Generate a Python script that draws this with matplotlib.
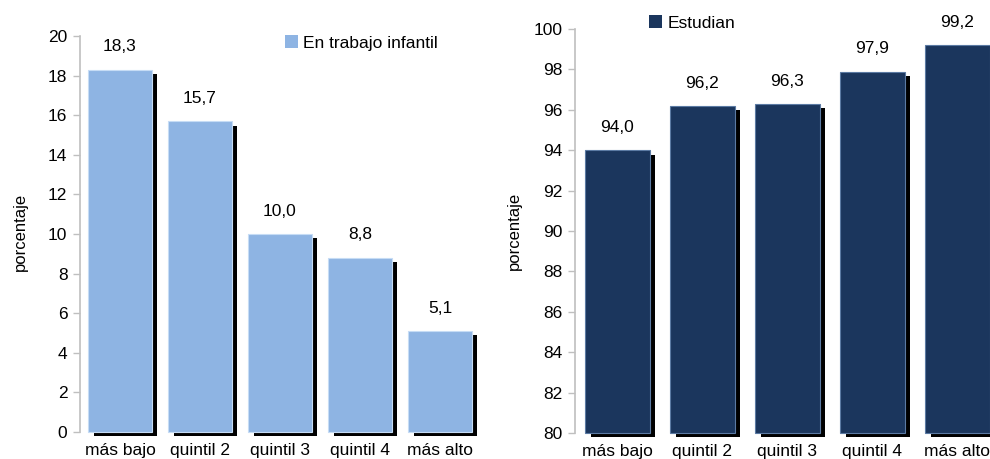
import matplotlib
matplotlib.use("Agg")
import matplotlib.pyplot as plt
import matplotlib.patheffects as pe
from matplotlib.patches import Patch
from matplotlib import font_manager

# data
quintiles = ["más bajo", "quintil 2", "quintil 3", "quintil 4", "más alto"]
trabajo_infantil = [18.3, 15.7, 10.0, 8.8, 5.1]
estudian = [94.0, 96.2, 96.3, 97.9, 99.2]

left_ticks = list(range(0, 21, 2))
right_ticks = list(range(80, 101, 2))

names = {f.name for f in font_manager.fontManager.ttflist}
fam = "Liberation Sans Narrow" if "Liberation Sans Narrow" in names else "Liberation Sans"
plt.rcParams["font.family"] = [fam, "DejaVu Sans"]
plt.rcParams["font.size"] = 12.5

fig = plt.figure(figsize=(9.9, 4.59), dpi=100)
ax1 = fig.add_axes([0.0808, 0.0588, 0.404, 0.8628])
ax2 = fig.add_axes([0.5808, 0.0566, 0.4293, 0.880])

shadow = [pe.SimplePatchShadow(offset=(4.0, -3.2), shadow_rgbFace="black", alpha=1.0), pe.Normal()]


def draw_panel(ax, values, base, top, ticks, color, edge, width, label, leg_xy):
    x = range(len(values))
    bars = ax.bar(x, [v - base for v in values], bottom=base, width=width,
                  color=color, edgecolor=edge, linewidth=0.8,
                  clip_on=False, zorder=3)
    for b in bars:
        b.set_path_effects(shadow)
    for xi, v in zip(x, values):
        ax.annotate(f"{v:.1f}".replace(".", ","), (xi, v), xytext=(0, 11),
                    textcoords="offset points", ha="center", va="bottom",
                    fontsize=12.5)
    ax.set_xlim(-0.5, len(values) - 0.5)
    ax.set_ylim(base, top)
    ax.set_yticks(ticks)
    ax.set_xticks(list(x))
    ax.set_xticklabels(quintiles)
    ax.tick_params(axis="x", length=0, pad=8)
    ax.tick_params(axis="y", length=5, color="#bfbfbf", width=1, pad=4)
    for s in ["top", "right", "bottom"]:
        ax.spines[s].set_visible(False)
    ax.spines["left"].set_color("#bfbfbf")
    ax.spines["left"].set_linewidth(1.2)
    ax.set_ylabel("porcentaje", fontsize=12)
    handle = Patch(facecolor=color, edgecolor="none")
    ax.legend([handle], [label], loc="center left", bbox_to_anchor=leg_xy, frameon=False,
              handlelength=0.75, handleheight=0.75, handletextpad=0.3,
              borderpad=0, borderaxespad=0, fontsize=12.5)


draw_panel(ax1, trabajo_infantil, 0, 20, left_ticks, "#8EB4E3", "#c6dcf5", 0.79,
           "En trabajo infantil", (0.513, 0.982))
draw_panel(ax2, estudian, 80, 100, right_ticks, "#1B365D", "#5b7aa3", 0.76,
           "Estudian", (0.174, 1.015))
ax1.yaxis.set_label_coords(-0.13, 0.505)
ax2.yaxis.set_label_coords(-0.125, 0.5)

fig.savefig("out.png", dpi=100)
